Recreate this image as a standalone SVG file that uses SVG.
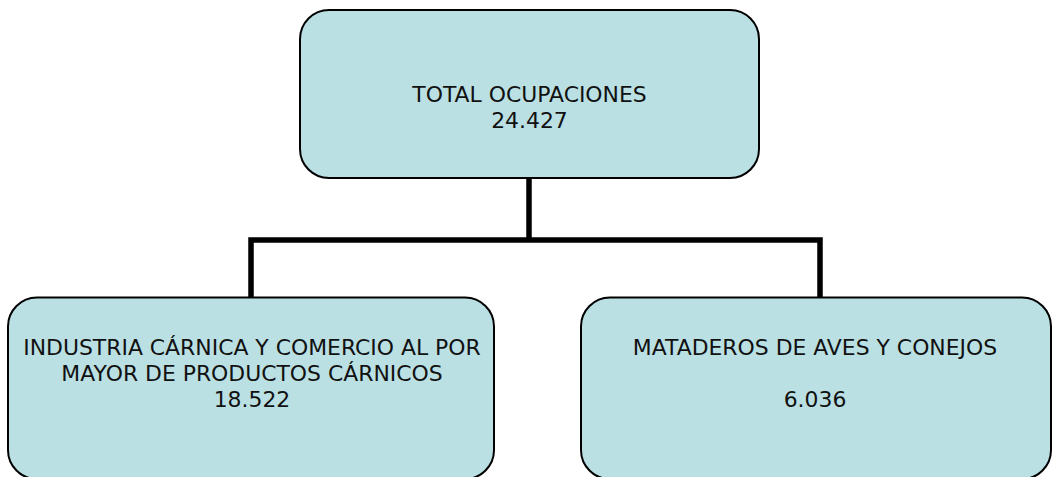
<svg xmlns="http://www.w3.org/2000/svg" width="1052" height="477" viewBox="0 0 1052 477">
<style>
.box{fill:#BAE0E3;stroke:#000;stroke-width:2}
.t{font-family:"DejaVu Sans",Verdana,sans-serif;font-size:21.9px;fill:#111;text-anchor:middle}
.c{fill:none;stroke:#000;stroke-width:5.5;stroke-linejoin:miter;stroke-linecap:butt}
</style>
<rect width="1052" height="477" fill="#fff"/>
<g id="connectors">
<path class="c" d="M529 178 V240"/>
<path class="c" d="M251 298 V240 H820 V298"/>
</g>
<g id="total">
<rect class="box" x="300" y="10" width="459" height="168" rx="29" ry="29"/>
<text class="t" x="529.5" y="102">TOTAL OCUPACIONES</text>
<text class="t" x="529.5" y="128">24.427</text>
</g>
<g id="industria">
<rect class="box" x="8" y="297.5" width="486" height="181.5" rx="29" ry="29"/>
<text class="t" x="252" y="355">INDUSTRIA CÁRNICA Y COMERCIO AL POR</text>
<text class="t" x="252" y="381">MAYOR DE PRODUCTOS CÁRNICOS</text>
<text class="t" x="252" y="407">18.522</text>
</g>
<g id="mataderos">
<rect class="box" x="581" y="297.5" width="470" height="181.5" rx="29" ry="29"/>
<text class="t" x="815" y="355">MATADEROS DE AVES Y CONEJOS</text>
<text class="t" x="815" y="407">6.036</text>
</g>
</svg>
